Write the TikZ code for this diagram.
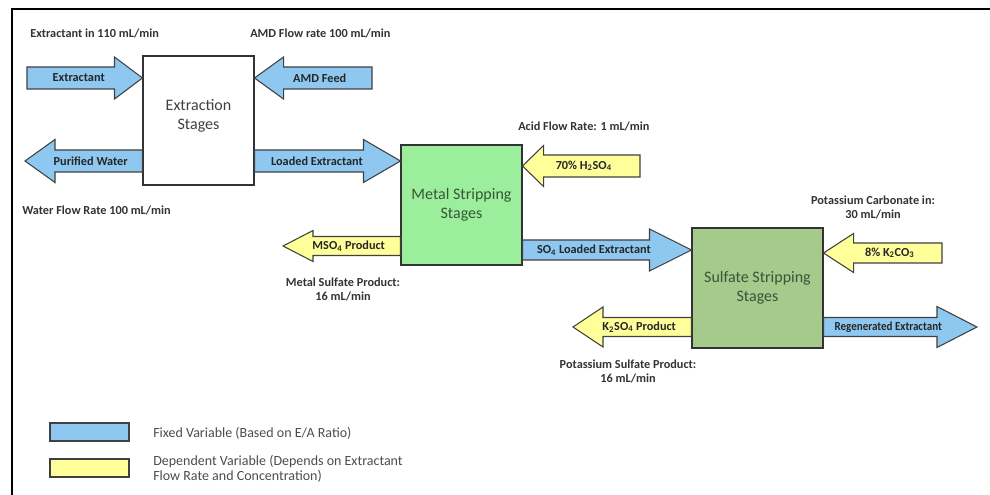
\documentclass[tikz,border=0pt]{standalone}
\usepackage{fontspec}
\setmainfont{Carlito}
\usepackage{graphicx}
\usetikzlibrary{calc}

\definecolor{fixedblue}{RGB}{142,200,240}
\definecolor{depyellow}{RGB}{255,255,153}
\definecolor{metalgreen}{RGB}{155,238,155}
\definecolor{sulfgreen}{RGB}{166,201,140}
\definecolor{stagegreen}{RGB}{55,85,55}

\tikzset{
  stagebox/.style={draw=black!80, line width=0.8pt, align=center, inner sep=0pt,
    font=\fontsize{12}{14.5}\selectfont},
  fixed/.style={draw=black!75, line width=0.8pt, fill=fixedblue},
  dependent/.style={draw=black!75, line width=0.8pt, fill=depyellow},
  flowtext/.style={font=\bfseries\fontsize{9.2}{10}\selectfont, text=black!85, inner sep=0pt},
  ratelabel/.style={font=\bfseries\fontsize{9.2}{10.5}\selectfont, text=black!80,
    align=center, inner sep=0pt},
  legendtext/.style={font=\fontsize{10.5}{11.3}\selectfont, text=black!70, align=left,
    anchor=west, inner sep=0pt},
}

% block arrow from tail #2 to tip #3 (same height)
% #4 head length, #5 half shaft, #6 half head (all in px), #7 text
\newcommand\flowarrow[7]{%
  \draw[#1] let \p1=(#2), \p2=(#3), \n1={ifthenelse(\x2>\x1,1,-1)},
      \p3=({\x2-\n1*#4*0.75pt},\y1) in
    (\x1,{\y1+#5*0.75pt}) -- (\x3,{\y1+#5*0.75pt}) -- (\x3,{\y1+#6*0.75pt})
    -- (\x2,\y1) -- (\x3,{\y1-#6*0.75pt}) -- (\x3,{\y1-#5*0.75pt})
    -- (\x1,{\y1-#5*0.75pt}) -- cycle
    ({(\x1+\x3)/2+\n1*6pt},\y1) node[flowtext] {#7};}

\begin{document}
\begin{tikzpicture}[x=0.75pt,y=-0.75pt]
\useasboundingbox (0,0) rectangle (990,495);
\draw[line width=2.2pt] (12,495) -- (12,9) -- (990,9);

% the three stages
\node[stagebox, fill=white, text=black!75, minimum width=83.25pt, minimum height=96.75pt]
  (extract) at (198.5,120.5) {Extraction\\Stages\\[-5pt]};
\node[stagebox, fill=metalgreen, text=stagegreen, minimum width=90.75pt, minimum height=90pt]
  (mstrip) at (461.5,205) {Metal Stripping\\Stages};
\node[stagebox, fill=sulfgreen, text=stagegreen, minimum width=98.25pt, minimum height=90pt]
  (sstrip) at (757.5,288) {Sulfate Stripping\\Stages};

% free ends of the streams
\coordinate (ext in) at (27,78);
\coordinate (amd in) at (372,78);
\coordinate (water out) at (25,161);
\coordinate (acid in) at (640,166);
\coordinate (mso4 out) at (283,246);
\coordinate (carb in) at (942,253);
\coordinate (k2so4 out) at (573,327);
\coordinate (regen out) at (977,327);

% streams
\flowarrow{fixed}{ext in}{extract.west |- ext in}{28}{11}{21}{Extractant}
\flowarrow{fixed}{amd in}{extract.east |- amd in}{29}{11}{21}{AMD Feed}
\flowarrow{fixed}{extract.west |- water out}{water out}{30}{11}{21.5}{Purified Water}
\flowarrow{fixed}{extract.east |- water out}{mstrip.west |- water out}{37}{11}{21.5}{Loaded Extractant}
\flowarrow{dependent}{acid in}{mstrip.east |- acid in}{21}{11}{20.5}{70\% H\textsubscript{2}SO\textsubscript{4}}
\flowarrow{dependent}{mstrip.west |- mso4 out}{mso4 out}{30}{9.5}{15.5}{MSO\textsubscript{4} Product}
\flowarrow{fixed}{mstrip.east |- 0,250}{sstrip.west |- 0,250}{42}{10}{21}{SO\textsubscript{4} Loaded Extractant}
\flowarrow{dependent}{carb in}{sstrip.east |- carb in}{30}{10}{19.5}{8\% K\textsubscript{2}CO\textsubscript{3}}
\flowarrow{dependent}{sstrip.west |- k2so4 out}{k2so4 out}{30}{9.5}{20}{K\textsubscript{2}SO\textsubscript{4} Product}
\flowarrow{fixed}{sstrip.east |- regen out}{regen out}{40}{9.5}{20.5}{\scalebox{0.9}[1]{Regenerated Extractant}}

% flow rates
\node[ratelabel, anchor=west] (rate ext) at (30,33) {Extractant in 110 mL/min};
\node[ratelabel, anchor=west] (rate amd) at (250,33) {AMD Flow rate 100 mL/min};
\node[ratelabel, anchor=west] (rate water) at (22,210) {Water Flow Rate 100 mL/min};
\node[ratelabel, anchor=west] (rate acid) at (518,126) {Acid Flow Rate: 1 mL/min};
\node[ratelabel] (rate carb) at (873,207) {Potassium Carbonate in:\\30 mL/min};
\node[ratelabel] (rate mso4) at (343,289) {Metal Sulfate Product:\\16 mL/min};
\node[ratelabel] (rate k2so4) at (628,371) {Potassium Sulfate Product:\\16 mL/min};

% legend
\node[fixed, minimum width=59.25pt, minimum height=13.5pt] (key fixed) at (89.5,432) {};
\node[dependent, minimum width=59.25pt, minimum height=13.5pt] (key dep) at (89.5,468) {};
\node[legendtext] (text fixed) at (153,433) {Fixed Variable (Based on E/A Ratio)};
\node[legendtext] (text dep) at (153,468.5) {Dependent Variable (Depends on Extractant\\Flow Rate and Concentration)};
\end{tikzpicture}
\end{document}
